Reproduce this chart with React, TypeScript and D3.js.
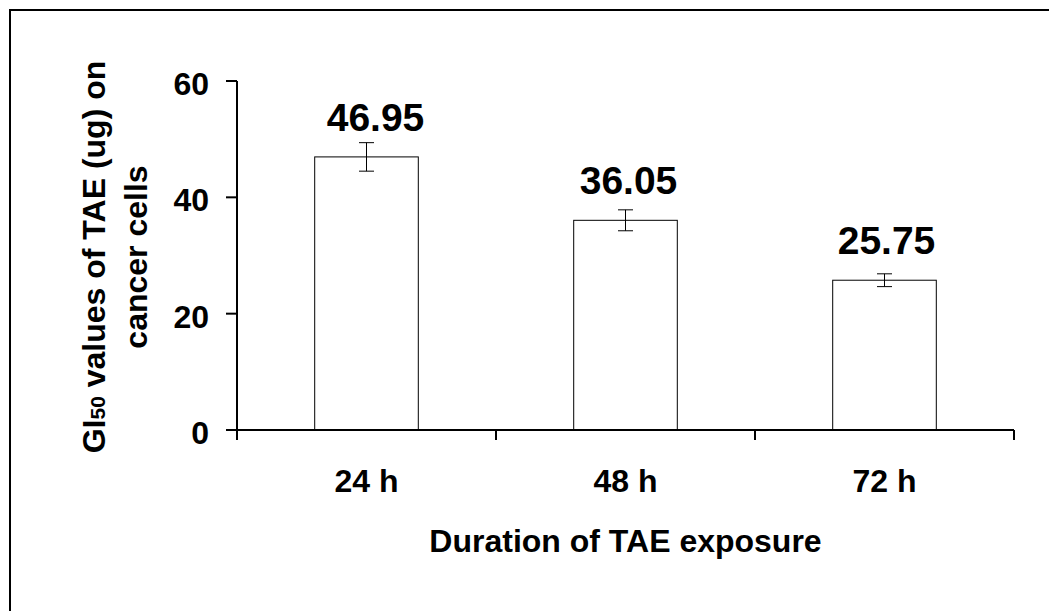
import React from "react";
import * as d3 from "d3";

const categories = ["24 h", "48 h", "72 h"];
const values = [46.95, 36.05, 25.75];
const errors = [2.45, 1.8, 1.1];
const yTicks = [0, 20, 40, 60];

const W = 1049;
const H = 611;
const FONT = "'Liberation Sans', Arial, sans-serif";

const App = () => {
  const x = d3.scaleBand<string>().domain(categories).range([237, 1014]).padding(0);
  const y = d3.scaleLinear().domain([0, 60]).range([430, 81]);
  const bw = x.bandwidth();
  const barW = bw / 2.5; // excel gap width 150%
  const boundaries = [...categories.map((c) => x(c) as number), 1014];
  const labelDx = [9, 3, 2];

  return (
    <svg
      width={W}
      height={H}
      style={{ position: "absolute", left: 0, top: 0, background: "#fff" }}
      fontFamily={FONT}
      fontWeight="bold"
    >
      {/* chart area border, runs off the right and bottom */}
      <rect x={10} y={10} width={W + 20} height={H + 20} fill="none" stroke="#000" strokeWidth={2} />

      {/* bars */}
      {values.map((v, i) => {
        const cx = (x(categories[i]) as number) + bw / 2;
        return (
          <g key={categories[i]}>
            <rect
              x={cx - barW / 2}
              y={y(v)}
              width={barW}
              height={y(0) - y(v)}
              fill="#fff"
              stroke="#000"
              strokeWidth={1}
            />
            <line x1={cx} x2={cx} y1={y(v + errors[i])} y2={y(v - errors[i])} stroke="#000" strokeWidth={1} />
            <line x1={cx - 7.5} x2={cx + 7.5} y1={y(v + errors[i])} y2={y(v + errors[i])} stroke="#000" strokeWidth={1} />
            <line x1={cx - 7.5} x2={cx + 7.5} y1={y(v - errors[i])} y2={y(v - errors[i])} stroke="#000" strokeWidth={1} />
            <text x={cx + labelDx[i]} y={y(v) - 26} textAnchor="middle" fontSize={39}>
              {d3.format(".2f")(v)}
            </text>
          </g>
        );
      })}

      {/* y axis */}
      <line x1={237} x2={237} y1={y(60)} y2={y(0) + 10} stroke="#000" strokeWidth={2} />
      {yTicks.map((t) => (
        <g key={t}>
          <line x1={226} x2={237} y1={y(t)} y2={y(t)} stroke="#000" strokeWidth={2} />
          <text x={209} y={y(t) + 14} textAnchor="end" fontSize={32}>
            {t}
          </text>
        </g>
      ))}

      {/* x axis */}
      <line x1={237} x2={1014} y1={y(0)} y2={y(0)} stroke="#000" strokeWidth={2} />
      {boundaries.map((b, i) => (
        <line key={i} x1={b} x2={b} y1={y(0)} y2={y(0) + 10} stroke="#000" strokeWidth={2} />
      ))}
      {categories.map((c) => (
        <text key={c} x={(x(c) as number) + bw / 2} y={492} textAnchor="middle" fontSize={32}>
          {c}
        </text>
      ))}

      {/* axis titles */}
      <text x={625.5} y={552} textAnchor="middle" fontSize={32}>
        Duration of TAE exposure
      </text>
      <g transform="translate(0,257) rotate(-90)">
        <text x={0} y={105} textAnchor="middle" fontSize={32}>
          GI
          <tspan fontSize={21}>50</tspan> values of TAE (ug) on
        </text>
        <text x={0} y={147} textAnchor="middle" fontSize={32}>
          cancer cells
        </text>
      </g>
    </svg>
  );
};

export default App;
